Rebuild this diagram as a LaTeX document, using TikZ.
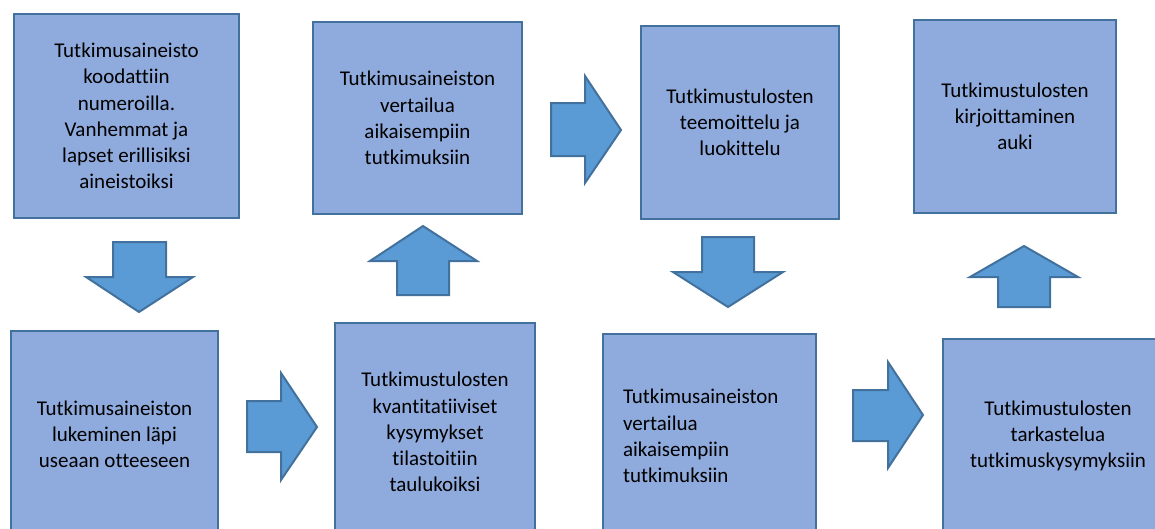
\documentclass[tikz,border=0pt]{standalone}
\usepackage{fontspec}
\setmainfont[Ligatures={CommonOff}]{Carlito}
\usepackage{tikz}
\usepackage{xcolor}

\definecolor{boxfill}{HTML}{8FAADC}
\definecolor{boxline}{HTML}{41719C}
\definecolor{arrowfill}{HTML}{5B9BD5}

\tikzset{
  phase/.style={draw=boxline, line width=2pt, fill=boxfill, anchor=north west,
    align=center, inner sep=0pt, font=\fontsize{21}{26.2}\selectfont},
  blockarrow/.style={draw=boxline, line width=2pt, fill=arrowfill, line join=miter}
}

\begin{document}
\begin{tikzpicture}[x=1pt,y=-1pt]
        \useasboundingbox (0,0) rectangle (1155,528);
        \clip (0,0) rectangle (1155,528);
        % Top row of phases
        \node[phase, minimum width=225pt, minimum height=204pt] (coding) at (13,13)
          {Tutkimusaineisto\\koodattiin\\numeroilla.\\Vanhemmat ja\\lapset erillisiksi\\aineistoiksi};
        \node[phase, minimum width=209pt, minimum height=192pt] (compareA) at (312,21)
          {Tutkimusaineiston\\vertailua\\aikaisempiin\\tutkimuksiin};
        \node[phase, minimum width=198pt, minimum height=193pt] (themes) at (640,25)
          {Tutkimustulosten\\teemoittelu ja\\luokittelu};
        \node[phase, minimum width=202pt, minimum height=193pt] (writing) at (913,19)
          {Tutkimustulosten\\kirjoittaminen\\auki};
        % Bottom row of phases
        \node[phase, minimum width=207pt, minimum height=206pt] (reading) at (10,330)
          {Tutkimusaineiston\\lukeminen läpi\\useaan otteeseen};
        \node[phase, minimum width=200pt, minimum height=218pt] (stats) at (334,322)
          {Tutkimustulosten\\kvantitatiiviset\\kysymykset\\tilastoitiin\\taulukoiksi};
        \node[phase, minimum width=213pt, minimum height=204pt, align=left,
          text width=173pt] (compareB) at (602,333)
          {Tutkimusaineiston\\vertailua\\aikaisempiin\\tutkimuksiin};
        \node[phase, minimum width=230pt, minimum height=194pt] (review) at (942,338)
          {Tutkimustulosten\\tarkastelua\\tutkimuskysymyksiin};
        % Block arrows between the phases
        \draw[blockarrow] (113,242) -- (166,242) -- (166,277) -- (193,277) -- (139,312)
          -- (86,277) -- (113,277) -- cycle;
        \draw[blockarrow] (247,401) -- (281,401) -- (281,373) -- (317,427) -- (281,480)
          -- (281,452) -- (247,452) -- cycle;
        \draw[blockarrow] (397,295) -- (397,261) -- (370,261) -- (423,226) -- (477,261)
          -- (449,261) -- (449,295) -- cycle;
        \draw[blockarrow] (551,103) -- (585,103) -- (585,76) -- (621,130) -- (585,183)
          -- (585,156) -- (551,156) -- cycle;
        \draw[blockarrow] (702,237) -- (754,237) -- (754,272) -- (783,272) -- (728,307)
          -- (673,272) -- (702,272) -- cycle;
        \draw[blockarrow] (853,390) -- (888,390) -- (888,362) -- (923,415) -- (888,468)
          -- (888,441) -- (853,441) -- cycle;
        \draw[blockarrow] (998,307) -- (998,277) -- (970,277) -- (1024,246) -- (1078,277)
          -- (1050,277) -- (1050,307) -- cycle;
    \end{tikzpicture}
\end{document}
